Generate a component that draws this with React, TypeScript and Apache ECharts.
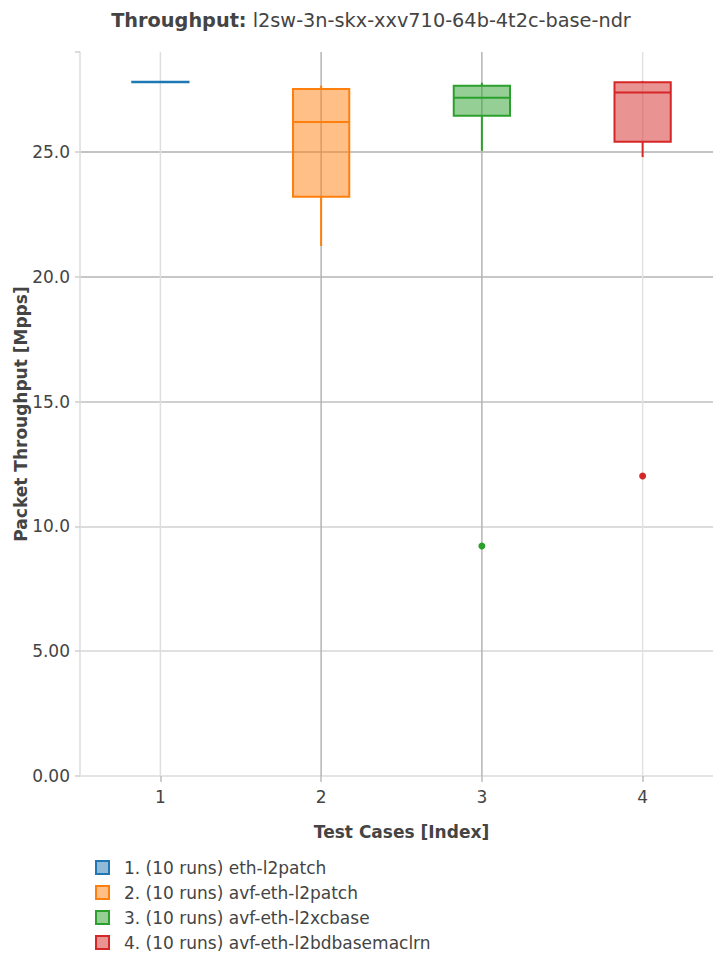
import React, { useEffect, useRef } from "react";
import * as echarts from "echarts";

const categories = ["1", "2", "3", "4"];
const seriesNames = [
  "1. (10 runs) eth-l2patch",
  "2. (10 runs) avf-eth-l2patch",
  "3. (10 runs) avf-eth-l2xcbase",
  "4. (10 runs) avf-eth-l2bdbasemaclrn",
];
const mins = [27.77, 21.23, 25.04, 24.79];
const q1s = [27.79, 23.2, 26.45, 25.41];
const medians = [27.8, 26.2, 27.17, 27.38];
const q3s = [27.81, 27.52, 27.65, 27.79];
const maxs = [27.83, 27.65, 27.77, 27.84];
const outliers: number[][] = [[], [], [9.21], [12.02]];
const yTicks = [0, 5, 10, 15, 20, 25];

const colors = ["#1f77b4", "#ff7f0e", "#2ca02c", "#d62728"];
const fills = [
  "rgba(31,119,180,0.5)",
  "rgba(255,127,14,0.5)",
  "rgba(44,160,44,0.5)",
  "rgba(214,39,40,0.5)",
];
const vLineColors = ["#dedede", "#b4b4b4", "#b4b4b4", "#e2e2e2"];
const FONT = "DejaVu Sans";
const TEXT = "#444";

export default function App() {
  const ref = useRef<HTMLDivElement>(null);
  useEffect(() => {
    if (!ref.current) return;
    document.body.style.margin = "0";
    document.body.style.overflow = "hidden";
    document.documentElement.style.overflow = "hidden";
    const chart = echarts.init(ref.current, undefined, { renderer: "svg", width: 713, height: 960 });

    const boxSeries = categories.map((c, i) => ({
      type: "custom",
      name: seriesNames[i],
      z: 3,
      itemStyle: { color: fills[i], borderColor: colors[i], borderWidth: 2 },
      encode: { x: 0, y: [1, 2, 3, 4, 5] },
      data: [[i, mins[i], q1s[i], medians[i], q3s[i], maxs[i]]],
      renderItem: (params: any, api: any) => {
        const x = api.value(0);
        const w = api.size([1, 0])[0] * 0.35;
        const pMin = api.coord([x, api.value(1)]);
        const pQ1 = api.coord([x, api.value(2)]);
        const pMed = api.coord([x, api.value(3)]);
        const pQ3 = api.coord([x, api.value(4)]);
        const pMax = api.coord([x, api.value(5)]);
        const cx = pMed[0];
        const stroke = colors[i];
        const lw = 2;
        return {
          type: "group",
          children: [
            {
              type: "line",
              shape: { x1: cx, y1: pMin[1], x2: cx, y2: pQ1[1] },
              style: { stroke, lineWidth: lw },
            },
            {
              type: "line",
              shape: { x1: cx, y1: pQ3[1], x2: cx, y2: pMax[1] },
              style: { stroke, lineWidth: lw },
            },
            {
              type: "rect",
              shape: { x: cx - w / 2, y: pQ3[1], width: w, height: pQ1[1] - pQ3[1] },
              style: { fill: fills[i], stroke, lineWidth: lw },
            },
            {
              type: "line",
              shape: { x1: cx - w / 2, y1: pMed[1], x2: cx + w / 2, y2: pMed[1] },
              style: { stroke, lineWidth: lw },
            },
          ],
        };
      },
    }));

    const outlierSeries = categories.map((c, i) => ({
      type: "scatter",
      name: seriesNames[i],
      z: 4,
      symbolSize: 7,
      itemStyle: { color: colors[i], opacity: 1 },
      data: outliers[i].map((v) => [i, v]),
    }));

    const gridLineSeries = {
      type: "custom",
      z: 1,
      silent: true,
      data: categories.map((c, i) => [i]),
      encode: { x: 0 },
      renderItem: (params: any, api: any) => {
        const idx = api.value(0);
        const p = api.coord([idx, 0]);
        const cs = params.coordSys;
        return {
          type: "line",
          shape: { x1: p[0], y1: cs.y, x2: p[0], y2: cs.y + cs.height },
          style: { stroke: vLineColors[idx], lineWidth: 1.5 },
        };
      },
    };

    chart.setOption({
      animation: false,
      textStyle: { fontFamily: FONT, color: TEXT },
      title: {
        text: "{b|Throughput:} l2sw-3n-skx-xxv710-64b-4t2c-base-ndr",
        left: 366,
        textAlign: "center",
        top: 6,
        textStyle: {
          fontFamily: FONT,
          fontSize: 19.3,
          fontWeight: "normal",
          color: TEXT,
          rich: {
            b: { fontFamily: FONT, fontSize: 19.3, fontWeight: "bold", color: TEXT },
          },
        },
      },
      legend: {
        orient: "vertical",
        left: 90,
        top: 854,
        icon: "rect",
        itemWidth: 13,
        itemHeight: 13,
        itemGap: 8,
        textStyle: {
          fontFamily: FONT,
          fontSize: 17,
          color: TEXT,
          padding: [0, 0, 0, 10],
          lineHeight: 17,
        },
        data: seriesNames.map((n, i) => ({
          name: n,
          itemStyle: { color: fills[i], borderColor: colors[i], borderWidth: 2 },
        })),
      },
      grid: {
        left: 80,
        right: -10,
        top: 52,
        bottom: 184,
        containLabel: false,
        outerBoundsMode: "none",
      },
      xAxis: {
        type: "category",
        data: categories,
        boundaryGap: true,
        name: "Test Cases [Index]",
        nameLocation: "middle",
        nameGap: 47,
        nameMoveOverlap: false,
        nameTextStyle: { fontFamily: FONT, fontSize: 17, fontWeight: "bold", color: TEXT },
        axisLine: { show: true, lineStyle: { color: "#e4e4e4", width: 2 } },
        axisTick: { show: true, alignWithLabel: true, length: 6, lineStyle: { color: "#bdbdbd", width: 1.5 } },
        axisLabel: { fontFamily: FONT, fontSize: 17, color: TEXT, margin: 12 },
        splitLine: { show: false },
      },
      yAxis: {
        type: "value",
        min: 0,
        max: 29,
        interval: 5,
        name: "Packet Throughput [Mpps]",
        nameLocation: "middle",
        nameGap: 51,
        nameMoveOverlap: false,
        nameTextStyle: { fontFamily: FONT, fontSize: 17, fontWeight: "bold", color: TEXT },
        axisLine: { show: true, lineStyle: { color: "#dcdcdc", width: 1.5 } },
        axisTick: { show: true, length: 5, lineStyle: { color: "#cfcfcf", width: 1.5 } },
        axisLabel: {
          fontFamily: FONT,
          fontSize: 17,
          color: TEXT,
          margin: 10,
          formatter: (v: number) =>
            yTicks.includes(v) ? (v >= 10 ? v.toFixed(1) : v.toFixed(2)) : "",
        },
        splitLine: {
          show: true,
          showMaxLine: false,
          lineStyle: {
            color: ["#e4e4e4", "#d6d6d6", "#d0d0d0", "#c0c0c0", "#b4b4b4", "#b0b0b0", "rgba(0,0,0,0)"],
            width: 1.5,
          },
        },
      },
      series: [gridLineSeries, ...boxSeries, ...outlierSeries],
    });
    return () => chart.dispose();
  }, []);
  return <div ref={ref} style={{ width: 713, height: 960 }} />;
}
